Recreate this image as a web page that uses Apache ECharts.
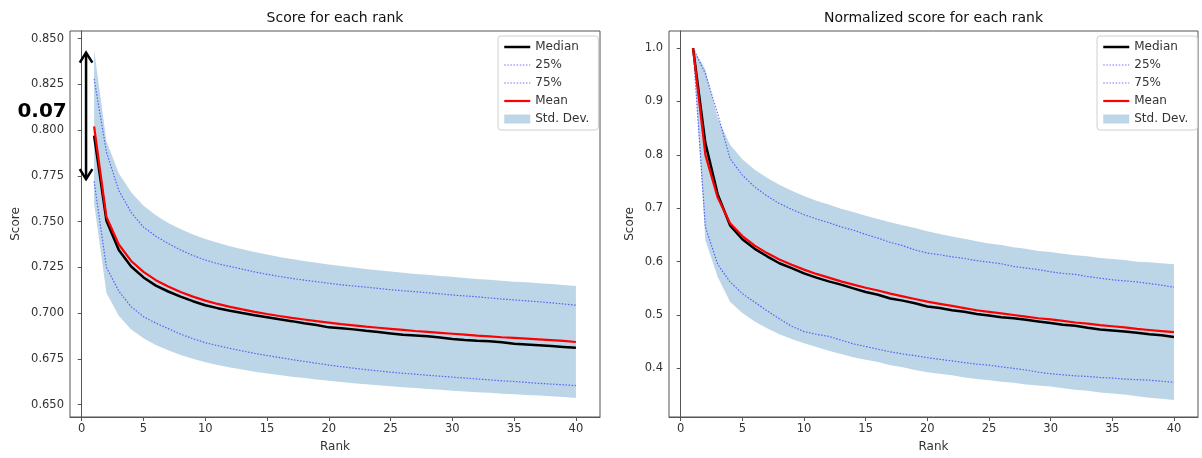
<!DOCTYPE html>
<html><head><meta charset="utf-8">
<script src="https://cdn.jsdelivr.net/npm/echarts@6/dist/echarts.min.js"></script>
<style>html,body{margin:0;padding:0;background:#fff}#c{width:1202px;height:458px}</style>
</head><body><div id="c"></div>
<script>
// ---------- data ----------
const ranks = [1,2,3,4,5,6,7,8,9,10,11,12,13,14,15,16,17,18,19,20,21,22,23,24,25,26,27,28,29,30,31,32,33,34,35,36,37,38,39,40];

// Left chart: raw score
const rawMedian = [0.797,0.7505,0.7345,0.7255,0.7195,0.7150,0.7118,0.7090,0.7065,0.7043,0.7027,0.7013,0.7000,0.6988,0.6977,0.6966,0.6956,0.6945,0.6935,0.6922,0.6917,0.6911,0.6903,0.6896,0.6889,0.6882,0.6878,0.6873,0.6866,0.6858,0.6853,0.6849,0.6846,0.6840,0.6832,0.6828,0.6824,0.6820,0.6815,0.6810];
const rawP25 = [0.772,0.725,0.712,0.7035,0.698,0.6945,0.6915,0.6885,0.686,0.6838,0.6822,0.6807,0.6793,0.678,0.6768,0.6757,0.6746,0.6736,0.6726,0.6716,0.6707,0.6699,0.6691,0.6684,0.6677,0.6671,0.6666,0.6660,0.6655,0.6650,0.6645,0.6640,0.6635,0.6630,0.6626,0.6621,0.6616,0.6612,0.6608,0.6604];
const rawP75 = [0.828,0.788,0.767,0.755,0.747,0.742,0.738,0.7345,0.7315,0.7290,0.7270,0.7255,0.7240,0.7225,0.7212,0.7200,0.7190,0.7180,0.7172,0.7163,0.7155,0.7148,0.7142,0.7135,0.7128,0.7122,0.7117,0.7111,0.7105,0.7099,0.7094,0.7089,0.7083,0.7077,0.7072,0.7067,0.7062,0.7056,0.7050,0.7043];
const rawMean = [0.802,0.7525,0.7375,0.7285,0.7225,0.7180,0.7145,0.7115,0.7090,0.7068,0.7050,0.7034,0.7020,0.7007,0.6995,0.6984,0.6974,0.6965,0.6956,0.6948,0.6940,0.6933,0.6926,0.6920,0.6914,0.6908,0.6902,0.6897,0.6892,0.6887,0.6882,0.6877,0.6873,0.6868,0.6864,0.6860,0.6856,0.6852,0.6848,0.6842];
const rawStd = [0.0420,0.0415,0.0390,0.0375,0.0362,0.0355,0.0348,0.0344,0.0340,0.0337,0.0334,0.0331,0.0329,0.0327,0.0325,0.0323,0.0322,0.0320,0.0319,0.0318,0.0317,0.0316,0.0315,0.0314,0.0314,0.0313,0.0312,0.0312,0.0311,0.0311,0.0310,0.0310,0.0309,0.0309,0.0308,0.0308,0.0307,0.0307,0.0306,0.0306];

// Right chart: normalized score
const normMedian = [1.000,0.822,0.726,0.668,0.642,0.624,0.610,0.597,0.588,0.578,0.570,0.563,0.557,0.550,0.543,0.538,0.531,0.527,0.522,0.516,0.513,0.509,0.506,0.502,0.499,0.496,0.494,0.491,0.488,0.485,0.482,0.480,0.476,0.473,0.471,0.469,0.467,0.464,0.462,0.459];
const normP25 = [1.000,0.665,0.595,0.562,0.540,0.524,0.508,0.493,0.479,0.469,0.464,0.460,0.453,0.446,0.441,0.436,0.431,0.427,0.424,0.420,0.417,0.414,0.411,0.408,0.406,0.403,0.400,0.397,0.393,0.390,0.388,0.386,0.385,0.383,0.382,0.380,0.379,0.378,0.376,0.374];
const normP75 = [1.000,0.952,0.877,0.793,0.762,0.740,0.723,0.709,0.698,0.688,0.680,0.673,0.665,0.659,0.651,0.644,0.636,0.630,0.622,0.616,0.613,0.609,0.606,0.602,0.599,0.596,0.591,0.588,0.585,0.581,0.578,0.576,0.572,0.569,0.566,0.564,0.562,0.559,0.556,0.552];
const normMean = [1.000,0.800,0.720,0.672,0.648,0.630,0.616,0.604,0.594,0.585,0.577,0.570,0.563,0.557,0.551,0.546,0.540,0.535,0.530,0.525,0.521,0.517,0.513,0.509,0.506,0.503,0.500,0.497,0.494,0.492,0.489,0.486,0.484,0.481,0.479,0.477,0.474,0.472,0.470,0.468];
const normStd = [0.000,0.160,0.149,0.147,0.144,0.142,0.141,0.140,0.139,0.138,0.137,0.137,0.136,0.136,0.135,0.134,0.134,0.133,0.133,0.132,0.131,0.130,0.130,0.129,0.128,0.128,0.127,0.127,0.126,0.126,0.126,0.126,0.126,0.126,0.126,0.126,0.126,0.127,0.127,0.127];

const xTicks = [0,5,10,15,20,25,30,35,40];
const rawYTicks = [0.650,0.675,0.700,0.725,0.750,0.775,0.800,0.825,0.850];
const normYTicks = [0.4,0.5,0.6,0.7,0.8,0.9,1.0];
const titles = ['Score for each rank', 'Normalized score for each rank'];
const legendNames = ['Median','25%','75%','Mean','Std. Dev.'];
// annotation on left chart: arrow spanning the spread at rank 1
const annot = { rank: 0.35, top: 0.8424, bottom: 0.7732, label: '0.07' };

// ---------- styling ----------
const FONT = 'DejaVu Sans';
const AXC = '#555';
const BAND = '#bcd6e8';
const DOT = 'rgba(0,0,255,0.55)';
const DOTSTYLE = { color: DOT, width: 1.2, type: [1.5, 1.6] };

function xAxis(gi) {
  return {
    type: 'value', gridIndex: gi, min: -0.95, max: 41.95,
    name: 'Rank', nameLocation: 'middle', nameGap: 24,
    nameTextStyle: { fontFamily: FONT, fontSize: 12, color: '#333' },
    axisLine: { show: true, lineStyle: { color: AXC, width: 1 } },
    axisTick: { show: true, length: 4, lineStyle: { color: AXC }, customValues: xTicks },
    axisLabel: { fontFamily: FONT, fontSize: 11.5, color: '#333', margin: 6, customValues: xTicks,
                 formatter: v => String(Math.round(v)) },
    splitLine: { show: false }
  };
}
function yAxis(gi, min, max, ticks, dec, gap) {
  return {
    type: 'value', gridIndex: gi, min: min, max: max,
    name: 'Score', nameLocation: 'middle', nameGap: gap, nameRotate: 90,
    nameTextStyle: { fontFamily: FONT, fontSize: 12, color: '#333' },
    axisLine: { show: true, lineStyle: { color: AXC, width: 1 } },
    axisTick: { show: true, length: 4, lineStyle: { color: AXC }, customValues: ticks },
    axisLabel: { fontFamily: FONT, fontSize: 11.5, color: '#333', margin: 6, customValues: ticks,
                 formatter: v => Number(v).toFixed(dec) },
    splitLine: { show: false }
  };
}
function seriesFor(gi, median, p25, p75, mean, std) {
  const pts = arr => ranks.map((r, i) => [r, arr[i]]);
  const lower = mean.map((m, i) => m - std[i]);
  const upper = mean.map((m, i) => m + std[i]);
  const common = { type: 'line', xAxisIndex: gi, yAxisIndex: gi, symbol: 'none', showSymbol: false, animation: false };
  return [
    {
      type: 'custom', name: 'Std. Dev.', xAxisIndex: gi, yAxisIndex: gi, silent: true, z: 1,
      itemStyle: { color: BAND },
      data: ranks.map((r, i) => [r, lower[i], upper[i]]),
      encode: { x: 0, y: [1, 2] },
      renderItem: function (params, api) {
        if (params.dataIndex !== 0) return null;
        const poly = [];
        for (let i = 0; i < ranks.length; i++) poly.push(api.coord([ranks[i], upper[i]]));
        for (let i = ranks.length - 1; i >= 0; i--) poly.push(api.coord([ranks[i], lower[i]]));
        return { type: 'polygon', shape: { points: poly }, style: { fill: BAND } };
      }
    },
    Object.assign({}, common, { name: '25%', data: pts(p25), lineStyle: DOTSTYLE, itemStyle: { color: DOT }, z: 3 }),
    Object.assign({}, common, { name: '75%', data: pts(p75), lineStyle: DOTSTYLE, itemStyle: { color: DOT }, z: 3 }),
    Object.assign({}, common, { name: 'Median', data: pts(median), lineStyle: { color: '#000', width: 2.5 }, itemStyle: { color: '#000' }, z: 4 }),
    Object.assign({}, common, { name: 'Mean', data: pts(mean), lineStyle: { color: '#ff0000', width: 2.2 }, itemStyle: { color: '#ff0000' }, z: 5 })
  ];
}
function legend(left) {
  return {
    left: left, top: 36, orient: 'vertical', itemWidth: 26, itemHeight: 9, itemGap: 6,
    padding: [5, 9, 5, 5], borderColor: '#d0d0d0', borderWidth: 1, borderRadius: 3, backgroundColor: '#fff',
    textStyle: { fontFamily: FONT, fontSize: 12, color: '#333' },
    selectedMode: false,
    itemStyle: { opacity: 0 },
    data: [
      { name: 'Median', itemStyle: { opacity: 0 }, lineStyle: { color: '#000', width: 2.5 } },
      { name: '25%', itemStyle: { opacity: 0 }, lineStyle: DOTSTYLE },
      { name: '75%', itemStyle: { opacity: 0 }, lineStyle: DOTSTYLE },
      { name: 'Mean', itemStyle: { opacity: 0 }, lineStyle: { color: '#ff0000', width: 2.2 } },
      { name: 'Std. Dev.', icon: 'rect', itemStyle: { color: BAND, opacity: 1 } }
    ]
  };
}

const chart = echarts.init(document.getElementById('c'), null, { renderer: 'canvas' });
const option = {
  animation: false,
  backgroundColor: '#fff',
  grid: [
    { left: 70, top: 31, width: 530, height: 388, show: true, borderColor: AXC, borderWidth: 1, backgroundColor: 'transparent' },
    { left: 669, top: 31, width: 529, height: 388, show: true, borderColor: AXC, borderWidth: 1, backgroundColor: 'transparent' }
  ],
  xAxis: [xAxis(0), xAxis(1)],
  yAxis: [yAxis(0, 0.6432, 0.8542, rawYTicks, 3, 48), yAxis(1, 0.309, 1.032, normYTicks, 1, 33)],
  legend: [legend(498), legend(1097)],
  series: [].concat(
    seriesFor(0, rawMedian, rawP25, rawP75, rawMean, rawStd),
    seriesFor(1, normMedian, normP25, normP75, normMean, normStd)
  )
};
chart.setOption(option);

// titles and annotation
const g0 = chart.convertToPixel({ gridIndex: 0 }, [20.5, 0.8542]);
const g1 = chart.convertToPixel({ gridIndex: 1 }, [20.5, 1.032]);
const pTop = chart.convertToPixel({ xAxisIndex: 0, yAxisIndex: 0 }, [annot.rank, annot.top]);
const pBot = chart.convertToPixel({ xAxisIndex: 0, yAxisIndex: 0 }, [annot.rank, annot.bottom]);
const head = 6.3, depth = 10;
const ls = { stroke: '#000', lineWidth: 2.5, fill: null };
chart.setOption({
  graphic: [
    { type: 'text', x: g0[0], y: g0[1] - 13, style: { text: titles[0], font: '14px "DejaVu Sans"', fill: '#111', textAlign: 'center', textVerticalAlign: 'middle' } },
    { type: 'text', x: g1[0], y: g1[1] - 13, style: { text: titles[1], font: '14px "DejaVu Sans"', fill: '#111', textAlign: 'center', textVerticalAlign: 'middle' } },
    { type: 'line', shape: { x1: pTop[0], y1: pTop[1] + 1, x2: pBot[0], y2: pBot[1] - 1 }, style: ls, z: 10 },
    { type: 'polyline', shape: { points: [[pTop[0] - head, pTop[1] + depth], [pTop[0], pTop[1]], [pTop[0] + head, pTop[1] + depth]] }, style: ls, z: 10 },
    { type: 'polyline', shape: { points: [[pBot[0] - head, pBot[1] - depth], [pBot[0], pBot[1]], [pBot[0] + head, pBot[1] - depth]] }, style: ls, z: 10 },
    { type: 'text', x: pTop[0] - 44, y: (pTop[1] + pBot[1]) / 2 - 4, style: { text: annot.label, font: 'bold 20px "DejaVu Sans"', fill: '#000', textAlign: 'center', textVerticalAlign: 'middle' }, z: 10 }
  ]
});
</script>
</body></html>
